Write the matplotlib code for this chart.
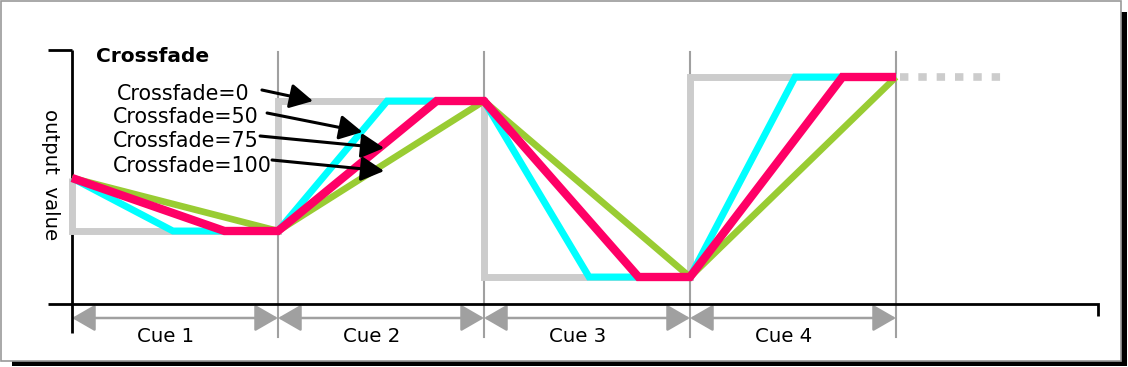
import numpy as np
import matplotlib
matplotlib.use('Agg')
from matplotlib import pyplot as plt
from matplotlib.patches import Rectangle, FancyArrowPatch

# levels of the output value at the start and at each cue
levels = [126, 73, 203, 27, 227]
cues = ['Cue 1', 'Cue 2', 'Cue 3', 'Cue 4']

# crossfade curves: breakpoints (time in cues, value)
fade0_t = [0, 0, 1, 1, 2, 2, 3, 3, 4]
fade0_v = [126, 73, 73, 203, 203, 27, 27, 227, 227]
fade50_t = [0, 0.49, 1, 1.53, 2, 2.51, 3, 3.51, 4]
fade50_v = [126, 73, 73, 203, 203, 27, 27, 227, 227]
fade75_t = [0, 0.74, 1, 1.77, 2, 2.75, 3, 3.74, 4]
fade75_v = [126, 73, 73, 203, 203, 27, 27, 227, 227]
fade100_t = [0, 1, 2, 3, 4]
fade100_v = [126, 73, 203, 27, 227]
hold_t = [4.02, 4.55]
hold_v = [227, 227]

labels = ['Crossfade=0', 'Crossfade=50', 'Crossfade=75', 'Crossfade=100']
label_pos = [(0.22, 204), (0.198, 181), (0.198, 157), (0.198, 132)]
arrow_tail = [(0.922, 214), (0.947, 191), (0.913, 168), (0.971, 144)]
arrow_tip = [(1.17, 203), (1.41, 172), (1.515, 156), (1.515, 133)]

W, H = 1128, 367
fig = plt.figure(figsize=(W / 100, H / 100), dpi=100, facecolor='white')

# frame with drop shadow
fig.patches.append(Rectangle((12 / W, 1 / H), 1115 / W, 354 / H, transform=fig.transFigure,
                             facecolor='black', edgecolor='none', zorder=-3))
fig.patches.append(Rectangle((0.5 / W, 6.5 / H), 1120 / W, 360 / H, transform=fig.transFigure,
                             facecolor='white', edgecolor='#9a9a9a', lw=1.2, zorder=-2))

ax = fig.add_axes([0, 0, 1, 1])
ax.patch.set_visible(False)
ax.axis('off')
ax.set_xlim(-72 / 206, (W - 72) / 206)
ax.set_ylim(304 - H, 304)

# axes of the diagram
ax.plot([0, 0], [-29, 254], color='black', lw=2, solid_capstyle='butt', zorder=3)
ax.plot([-0.1165, 0], [254, 254], color='black', lw=2, solid_capstyle='butt', zorder=3)
ax.plot([-0.1165, 4.98, 4.98], [0, 0, -12], color='black', lw=2,
        solid_joinstyle='miter', solid_capstyle='butt', zorder=3)

# cue boundaries
for i in range(1, 5):
    ax.plot([i, i], [-33, 252], color='#a0a0a0', lw=1.5, zorder=1)

# cue spans
for i, name in enumerate(cues):
    ar = FancyArrowPatch((i, -14), (i + 1, -14),
                         arrowstyle='<|-|>,head_length=14.4,head_width=8.3',
                         mutation_scale=1, color='#a0a0a0', lw=1.8,
                         shrinkA=0, shrinkB=0, zorder=2)
    ax.add_patch(ar)
    ax.text(i + 0.455, -38, name, ha='center', va='baseline', fontsize=14.2,
            family='DejaVu Sans', color='black')

# curves
kw = dict(solid_joinstyle='miter', solid_capstyle='butt')
ax.plot(fade0_t, fade0_v, color='#cccccc', lw=5, zorder=4, **kw)
ax.plot(hold_t, hold_v, color='#cccccc', lw=5.5, linestyle=(0, (1.1, 1.3)),
        dash_capstyle='butt', zorder=4)
ax.plot(fade50_t, fade50_v, color='#00ffff', lw=5, zorder=5, **kw)
ax.plot(fade100_t, fade100_v, color='#99cc33', lw=4.8, zorder=6, **kw)
ax.plot(fade75_t, fade75_v, color='#ff0066', lw=6, zorder=7, **kw)

# labels
ax.text(0.117, 242, 'Crossfade', fontsize=14.5, fontweight='bold', ha='left', va='baseline')
for lab, (x, y), tail, tip in zip(labels, label_pos, arrow_tail, arrow_tip):
    ax.text(x, y, lab, fontsize=14.9, ha='left', va='baseline', zorder=8)
    ax.annotate('', xy=tip, xytext=tail,
                arrowprops=dict(arrowstyle='-|>,head_length=14,head_width=7.5',
                                mutation_scale=1, color='black', lw=2.2,
                                shrinkA=0, shrinkB=0), zorder=9)

ax.text(-0.102, 129, 'output  value', rotation=-90, ha='center', va='center', fontsize=14.2)

fig.savefig('out.png', dpi=100, facecolor='white')
